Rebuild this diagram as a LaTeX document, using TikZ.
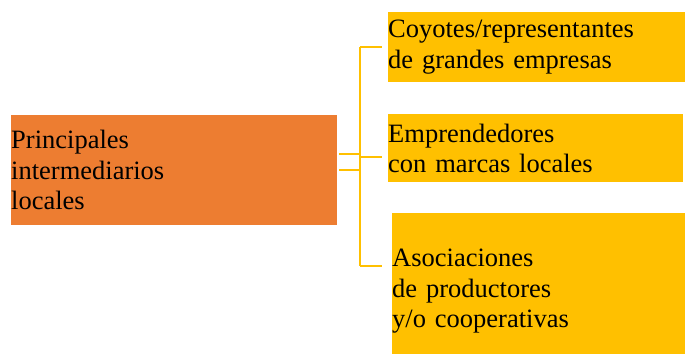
\documentclass[tikz,border=0pt]{standalone}
\usepackage{fontspec}
\setmainfont{Liberation Serif}
\usepackage{tikz}

\definecolor{naranja}{HTML}{ED7D31}
\definecolor{amarillo}{HTML}{FFC000}

\tikzset{
  caja/.style={rectangle, anchor=north west, inner sep=0pt, align=left,
    font=\fontsize{26.5}{30.5}\selectfont},
  cajamain/.style={caja, fill=naranja},
  cajatipo/.style={caja, fill=amarillo},
  rama/.style={draw=amarillo, line width=2.6pt}
}

\begin{document}
\begin{tikzpicture}[x=1pt, y=-1pt]
      \useasboundingbox (0,0) rectangle (685,354);
      \node[cajamain, text width=326, minimum height=110] (main) at (11,115) {Principales\\intermediarios\\locales};
      \node[cajatipo, text width=297, minimum height=70] (coyotes) at (388,12) {Coyotes/representantes\\de grandes empresas};
      \node[cajatipo, text width=295, minimum height=68] (emprend) at (388,114) {Emprendedores\\con marcas locales};
      \node[cajatipo, text width=293, minimum height=141] (asoc) at (392,213) {\\[2pt]Asociaciones\\de productores\\y/o cooperativas};
      \coordinate (jtop) at (360,47);
      \coordinate (jmid) at (360,157);
      \coordinate (jbot) at (360,266);
      \coordinate (ja) at (360,154);
      \coordinate (jb) at (360,170);
      \draw[rama] (jtop) -- (jbot);
      \draw[rama] (jtop) -- ([xshift=-6]coyotes.west |- jtop);
      \draw[rama] (jmid) -- ([xshift=-6]emprend.west |- jmid);
      \draw[rama] (jbot) -- ([xshift=-10]asoc.west |- jbot);
      \draw[rama] ([xshift=2]main.east |- ja) -- (ja);
      \draw[rama] ([xshift=2]main.east |- jb) -- (jb);
\end{tikzpicture}
\end{document}
